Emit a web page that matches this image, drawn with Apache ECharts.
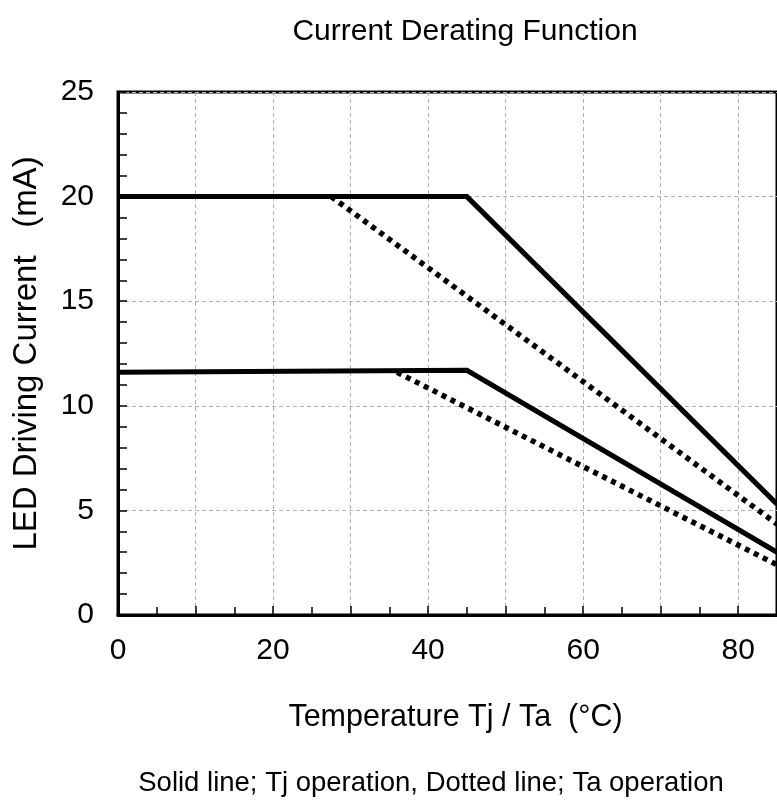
<!DOCTYPE html>
<html>
<head>
<meta charset="utf-8">
<script src="https://cdn.jsdelivr.net/npm/echarts@6/dist/echarts.min.js"></script>
<style>html,body{margin:0;padding:0;background:#fff}#c{width:777px;height:806px}</style>
</head>
<body>
<div id="c"></div>
<script>
const titleText = 'Current Derating Function';
const xName = 'Temperature Tj / Ta  (\u00B0C)';
const yName = 'LED Driving Current   (mA)';
const footnote = 'Solid line; Tj operation, Dotted line; Ta operation';

const tjHigh = [[0, 20], [45, 20], [85, 5.3]];
const tjLow = [[0, 11.6], [45, 11.7], [85, 3.0]];
const taHigh = [[27.5, 20], [85, 4.35]];
const taLow = [[36, 11.6], [85, 2.4]];

const xMin = 0, xMax = 85, xStep = 10;
const yMin = 0, yMax = 25, yStep = 5;

const FONT = "'Liberation Sans', Arial, sans-serif";

const chart = echarts.init(document.getElementById('c'));
const solid = (d) => ({type: 'line', data: d, symbol: 'none', animation: false,
  lineStyle: {color: '#000', width: 5, cap: 'butt', join: 'miter'}});
const dotted = (d) => ({type: 'line', data: d, symbol: 'none', animation: false,
  lineStyle: {color: '#000', width: 5.5, type: [5, 5], cap: 'butt'}});

chart.setOption({
  backgroundColor: '#fff',
  animation: false,
  title: [
    {text: titleText, left: 460, top: 12, textAlign: 'center',
     textStyle: {fontFamily: FONT, fontSize: 30, fontWeight: 'normal', color: '#000'}},
    {text: footnote, left: 426, top: 764, textAlign: 'center',
     textStyle: {fontFamily: FONT, fontSize: 27.5, fontWeight: 'normal', color: '#000'}}
  ],
  grid: {left: 118, top: 92, right: -6, bottom: 191, show: true, borderColor: '#000', borderWidth: 3},
  xAxis: {
    type: 'value', min: xMin, max: xMax, interval: xStep,
    name: xName, nameLocation: 'middle', nameGap: 87,
    nameTextStyle: {fontFamily: FONT, fontSize: 30.5, color: '#000', padding: [0, 0, 0, 16]},
    axisLine: {show: true, lineStyle: {color: '#000', width: 3}},
    axisTick: {show: true, inside: true, length: 9, lineStyle: {color: '#000', width: 1.5}},
    minorTick: {show: true, splitNumber: 2, length: 8, lineStyle: {color: '#000', width: 1.5}},
    axisLabel: {fontFamily: FONT, fontSize: 30, color: '#000', margin: 21,
      showMaxLabel: false, formatter: v => (v % 20 === 0 ? String(v) : '')},
    splitLine: {show: true, lineStyle: {color: '#b0b0b0', width: 1, type: [4, 3]}}
  },
  yAxis: {
    type: 'value', min: yMin, max: yMax, interval: yStep,
    name: yName, nameLocation: 'middle', nameGap: 75,
    nameTextStyle: {fontFamily: FONT, fontSize: 33, color: '#000'},
    axisLine: {show: true, lineStyle: {color: '#000', width: 3}},
    axisTick: {show: true, inside: true, length: 9, lineStyle: {color: '#000', width: 1.5}},
    minorTick: {show: true, splitNumber: 5, length: 9, lineStyle: {color: '#000', width: 1.5}},
    axisLabel: {fontFamily: FONT, fontSize: 30, color: '#000', margin: 24},
    splitLine: {show: true, lineStyle: {color: '#b0b0b0', width: 1, type: [4, 3]}}
  },
  series: [solid(tjHigh), solid(tjLow), dotted(taHigh), dotted(taLow)]
});
</script>
</body>
</html>
